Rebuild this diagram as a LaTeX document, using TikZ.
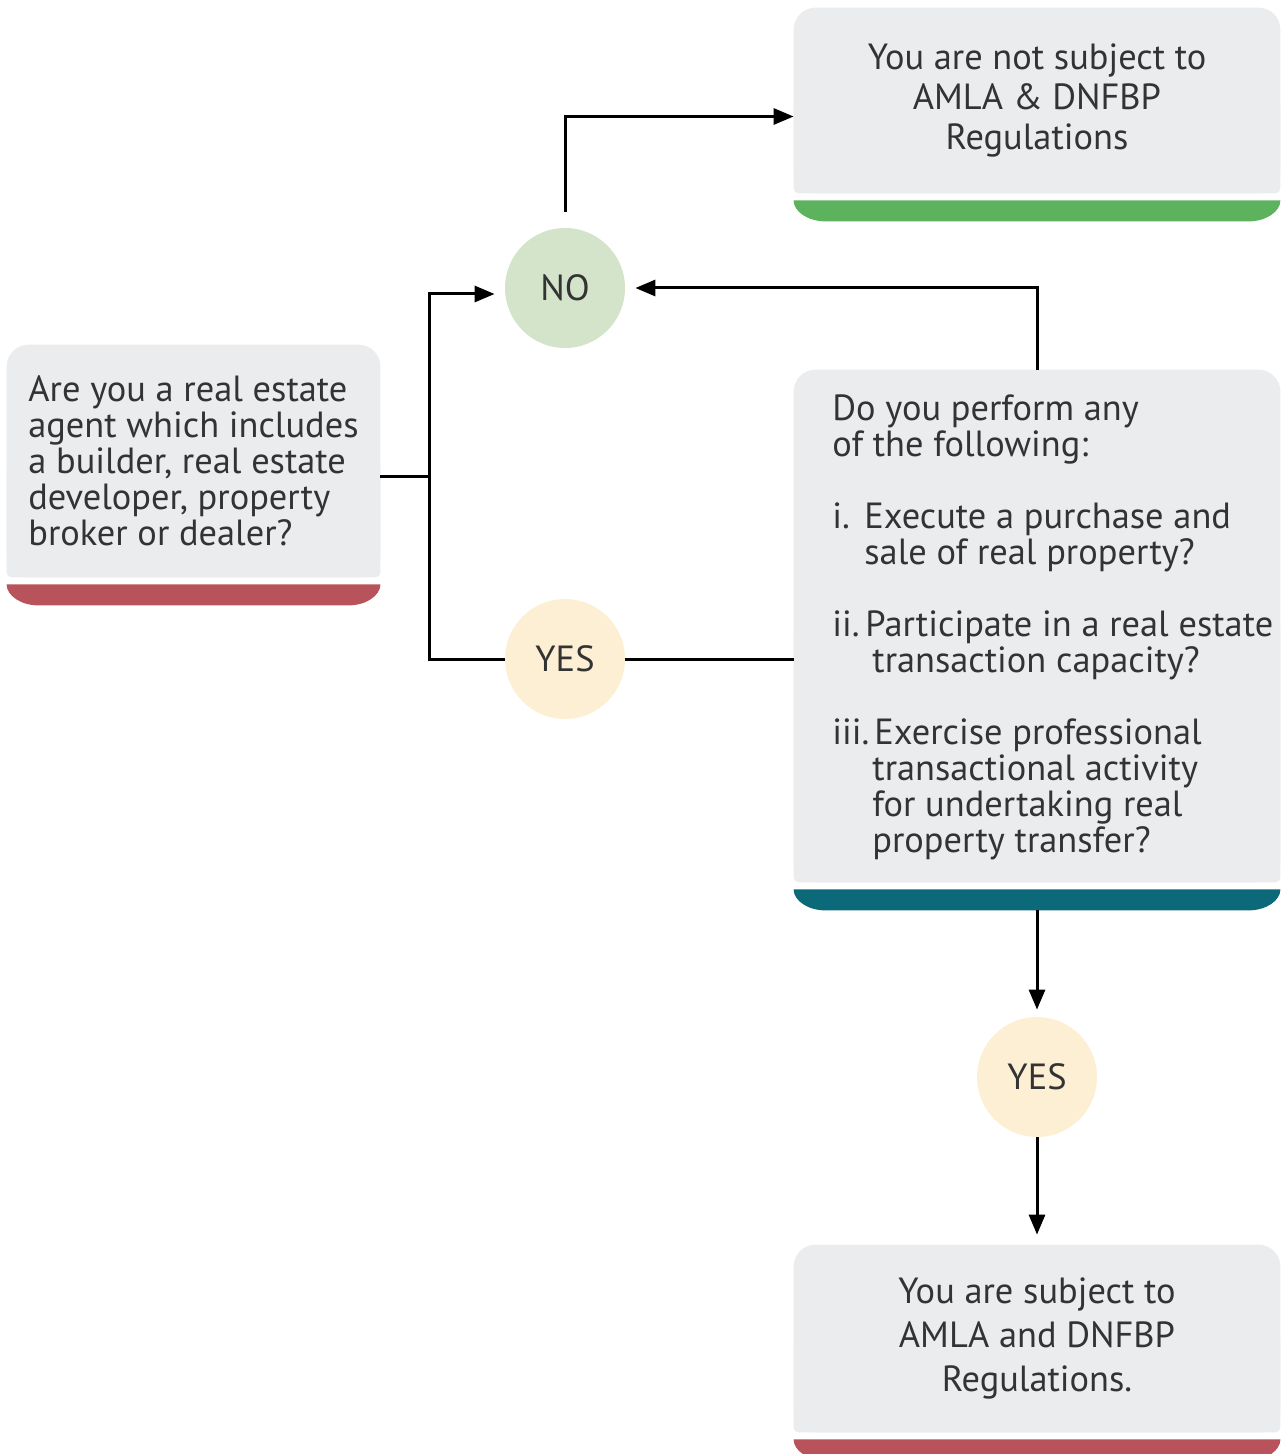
\documentclass[tikz,border=0pt]{standalone}
\usepackage{fontspec}
\setmainfont{PT Sans}
\usetikzlibrary{arrows.meta,backgrounds}
\definecolor{cardgray}{HTML}{EBECEE}
\definecolor{bargreen}{HTML}{5CB25D}
\definecolor{barred}{HTML}{B9535B}
\definecolor{barteal}{HTML}{0B6979}
\definecolor{nofill}{HTML}{D3E4CB}
\definecolor{yesfill}{HTML}{FDEFD3}
\definecolor{inkgray}{HTML}{333333}

\newcommand\cardfill[2]{%
  \fill[cardgray,rounded corners=11pt] (#1.north west) rectangle (#1.south east);
  \fill[cardgray,rounded corners=2.5pt] (#1.west) rectangle (#1.south east);
  \fill[#2] ([yshift=-3.5pt]#1.south west) -- ([yshift=-3.5pt]#1.south east)
    .. controls ([yshift=-9pt]#1.south east) and ([xshift=-7pt,yshift=-14pt]#1.south east)
    .. ([xshift=-16pt,yshift=-14pt]#1.south east)
    -- ([xshift=16pt,yshift=-14pt]#1.south west)
    .. controls ([xshift=7pt,yshift=-14pt]#1.south west) and ([yshift=-9pt]#1.south west)
    .. ([yshift=-3.5pt]#1.south west) -- cycle;}

\begin{document}
\begin{tikzpicture}[x=0.5pt,y=-0.5pt,
  every node/.style={text=inkgray,inner sep=0pt,font=\fontsize{18.2}{18}\selectfont},
  card/.style={minimum width=243pt,align=center},
  dot/.style={circle,minimum size=60pt},
  link/.style={draw=black,line width=1.5pt,-{Triangle[length=10pt,width=8pt]}}]
\useasboundingbox (0,0) rectangle (1282,1454);

\node[card,minimum height=92.5pt,font=\fontsize{18.2}{20}\selectfont] (notsub) at (1037, 100.5)
  {You are not subject to\\AMLA \& DNFBP\\Regulations};
\node[card,minimum width=186.5pt,minimum height=116pt,align=left] (agent) at (193.5, 461)
  {Are you a real estate\\agent which includes\\a builder, real estate\\developer, property\\broker or dealer?};
\node[card,minimum height=256pt] (perform) at (1037, 626) {};
\node[anchor=north west,align=left] (performtxt) at (832, 394)
  {Do you perform any\\of the following:\\[18pt]
   \makebox[16pt][l]{i.}Execute a purchase and\\
   \hspace*{16pt}sale of real property?\\[18pt]
   \makebox[16.5pt][l]{ii.}Participate in a real estate\\
   \hspace*{20pt}transaction capacity?\\[18pt]
   \makebox[21pt][l]{iii.}Exercise professional\\
   \hspace*{20pt}transactional activity\\
   \hspace*{20pt}for undertaking real\\
   \hspace*{20pt}property transfer?};
\node[card,minimum height=93.5pt,font=\fontsize{18.2}{22}\selectfont] (sub) at (1037, 1338.5)
  {You are subject to\\AMLA and DNFBP\\Regulations.};

\node[dot,fill=nofill] (no) at (565, 288) {NO};
\node[dot,fill=yesfill] (yes1) at (565, 659) {YES};
\node[dot,fill=yesfill] (yes2) at (1037, 1077) {YES};
\coordinate (split) at (429, 476);

\begin{scope}[on background layer]
\cardfill{notsub}{bargreen}
\cardfill{agent}{barred}
\cardfill{perform}{barteal}
\cardfill{sub}{barred}
\end{scope}

\draw[link,-] (split -| agent.east) -- (split);
\draw[link,shorten >=5pt] (split) |- ([yshift=-3pt]no.west);
\draw[link,-] (split) |- (yes1.west);
\draw[link,-] (yes1.east) -- (yes1 -| perform.west);
\draw[link,shorten >=5pt] (perform.north) |- (no.east);
\draw[link] ([yshift=8pt]no.north) |- ([yshift=-8pt]notsub.west);
\draw[link,shorten >=3.5pt] ([yshift=-14pt]perform.south) -- (yes2.north);
\draw[link,shorten >=5pt] (yes2.south) -- (sub.north);
\end{tikzpicture}
\end{document}
